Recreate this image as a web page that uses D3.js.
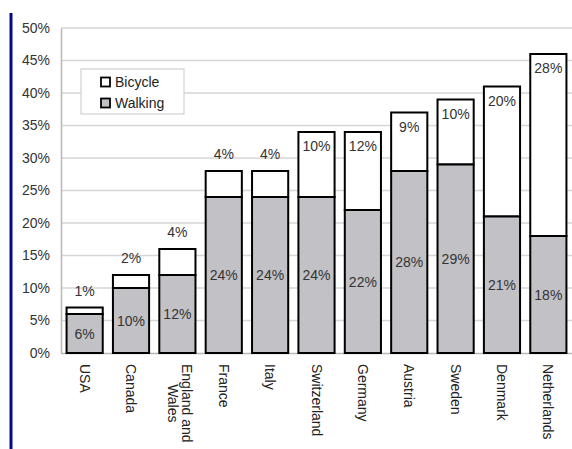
<!DOCTYPE html>
<html><head><meta charset="utf-8">
<script src="https://cdn.jsdelivr.net/npm/d3@7"></script>
<style>body{margin:0;background:#fff}svg{display:block}text{font-family:"Liberation Sans",Arial,sans-serif}</style>
</head><body><svg id="c" width="572" height="449"></svg>
<script>
const categories = ["USA","Canada","England and Wales","France","Italy","Switzerland","Germany","Austria","Sweden","Denmark","Netherlands"];
const walking = [6,10,12,24,24,24,22,28,29,21,18];
const bicycle = [1,2,4,4,4,10,12,9,10,20,28];
const yTicks = [0,5,10,15,20,25,30,35,40,45,50];
const seriesNames = ["Bicycle","Walking"];

const svg = d3.select("#c");
const x = d3.scaleBand().domain(categories).range([61,572]).paddingInner(0.22).paddingOuter(0.12);
const y = d3.scaleLinear().domain([0,50]).range([353,28]);
const FS = 14;

// left blue border line
svg.append("line").attr("x1",11).attr("x2",11).attr("y1",13).attr("y2",449).attr("stroke","#000a8c").attr("stroke-width",3);

// grid
svg.append("g").selectAll("line").data(yTicks.filter(d=>d>0)).join("line")
  .attr("x1",61).attr("x2",572).attr("y1",d=>y(d)).attr("y2",d=>y(d))
  .attr("stroke","#d6d6d6").attr("stroke-width",1.3);

// y axis
const ya = svg.append("g").attr("transform","translate(61,0)").call(d3.axisLeft(y).tickValues(yTicks).tickFormat(d=>d+"%").tickSize(0).tickPadding(11));
ya.select(".domain").attr("stroke","#b8b8b8").attr("stroke-width",1.5);
ya.selectAll("text").attr("font-size",FS).attr("fill","#333").style("font-family","'Liberation Sans',Arial,sans-serif");

// x axis line
svg.append("line").attr("x1",61).attr("x2",572).attr("y1",353.5).attr("y2",353.5).attr("stroke","#b8b8b8").attr("stroke-width",1.5);

const data = categories.map((c,i)=>({c, w:walking[i], b:bicycle[i]}));
const g = svg.append("g");
// bicycle segment
g.selectAll("rect.b").data(data).join("rect").attr("class","b")
  .attr("x",d=>x(d.c)).attr("width",x.bandwidth())
  .attr("y",d=>y(d.w+d.b)).attr("height",d=>y(d.w)-y(d.w+d.b))
  .attr("fill","#fff").attr("stroke","#000").attr("stroke-width",2);
// walking segment
g.selectAll("rect.w").data(data).join("rect").attr("class","w")
  .attr("x",d=>x(d.c)).attr("width",x.bandwidth())
  .attr("y",d=>y(d.w)).attr("height",d=>y(0)-y(d.w))
  .attr("fill","#c2c1c5").attr("stroke","#000").attr("stroke-width",2);

// labels
g.selectAll("text.w").data(data).join("text").attr("class","w")
  .attr("x",d=>x(d.c)+x.bandwidth()/2).attr("y",d=>(y(d.w)+y(0))/2+5)
  .attr("text-anchor","middle").attr("font-size",FS).attr("fill","#333").text(d=>d.w+"%");
g.selectAll("text.b").data(data).join("text").attr("class","b")
  .attr("x",d=>x(d.c)+x.bandwidth()/2)
  .attr("y",d=> d.b<5 ? y(d.w+d.b)-12 : y(d.w+d.b)+19)
  .attr("text-anchor","middle").attr("font-size",FS).attr("fill","#333").text(d=>d.b+"%");

// x labels rotated
const xl = svg.append("g");
data.forEach(d=>{
  const cx = x(d.c)+x.bandwidth()/2;
  const lines = d.c==="England and Wales" ? ["England and","Wales"] : [d.c];
  const t = xl.append("text").attr("transform",`translate(${cx},364) rotate(90)`)
    .attr("font-size",FS).attr("fill","#222");
  if(lines.length===1){
    t.append("tspan").attr("x",0).attr("y",5).text(lines[0]);
  } else {
    const t1 = t.append("tspan").attr("y",-4.5).text(lines[0]);
    const t2 = t.append("tspan").attr("y",9.5).text(lines[1]);
    const w1 = t1.node().getComputedTextLength();
    t1.attr("x",w1/2).attr("text-anchor","middle");
    t2.attr("x",w1/2).attr("text-anchor","middle");
  }
});

// legend
const lg = svg.append("g");
lg.append("rect").attr("x",81).attr("y",69).attr("width",103).attr("height",45).attr("fill","#fff").attr("stroke","#d0d0d0").attr("stroke-width",1.2);
const fills = ["#fff","#c2c1c5"];
seriesNames.forEach((n,i)=>{
  lg.append("rect").attr("x",101).attr("y",77.5+i*21).attr("width",9).attr("height",9).attr("fill",fills[i]).attr("stroke","#000").attr("stroke-width",1.8);
  lg.append("text").attr("x",115).attr("y",86.5+i*21).attr("font-size",FS).attr("fill","#222").text(n);
});
</script></body></html>
